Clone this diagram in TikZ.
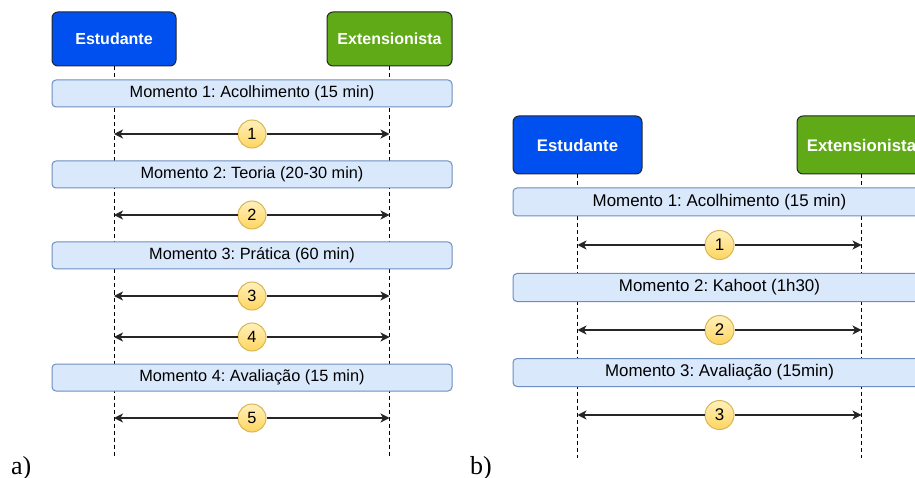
\documentclass[tikz,border=0pt]{standalone}
\usepackage{fontspec}
\setmainfont{Liberation Sans}
\newfontfamily\serifcap{Liberation Serif}
\usetikzlibrary{arrows.meta}
\frenchspacing
\definecolor{estblue}{HTML}{0050EF}
\definecolor{extgreen}{HTML}{60A917}
\definecolor{barfill}{HTML}{DAE8FC}
\definecolor{barline}{HTML}{6C8EBF}
\definecolor{circtop}{HTML}{FFF0BB}
\definecolor{circbot}{HTML}{FFD560}
\definecolor{circline}{HTML}{D6B656}
\tikzset{
  actorbox/.style={rectangle, rounded corners=6pt, line width=1pt, text=white,
     font=\fontsize{16}{19}\selectfont\bfseries, inner sep=0pt},
  estbox/.style={actorbox, fill=estblue, draw=black!85},
  extbox/.style={actorbox, fill=extgreen, draw=black!85},
  momentbar/.style={rectangle, rounded corners=4pt, fill=barfill, draw=barline, line width=1pt,
     inner sep=0pt, font=\fontsize{16.3}{19}\selectfont},
  lifeline/.style={dashed, dash pattern=on 4pt off 3pt, line width=1pt, black},
  stepcirc/.style={circle, top color=circtop, bottom color=circbot, draw=circline, line width=1pt,
     minimum size=28pt, inner sep=0pt, font=\fontsize{16.3}{19}\selectfont},
  msgarrow/.style={line width=1.3pt, black!85, -{Stealth[length=9pt, width=9pt, inset=2.5pt]}},
  panellabel/.style={font=\serifcap\fontsize{26}{30}\selectfont, anchor=base west, inner sep=0pt}
}
\begin{document}
\begin{tikzpicture}[x=1pt, y=-1pt]
\useasboundingbox (0,0) rectangle (915,478);
\clip (0,0) rectangle (915,478);

% ---------------- Panel a ----------------
\node[estbox, minimum width=124pt, minimum height=54pt] (aE) at (114,39) {Estudante};
\node[extbox, minimum width=125pt, minimum height=54pt] (aX) at (389.5,39) {Extensionista};
\coordinate (aEend) at (114,458);
\coordinate (aXend) at (389.5,458);
\draw[lifeline] (aE.south) -- (aEend);
\draw[lifeline] (aX.south) -- (aXend);

\node[momentbar, minimum width=400pt, minimum height=27pt] (am1) at (252,93.5) {Momento 1: Acolhimento (15 min)};
\node[momentbar, minimum width=400pt, minimum height=27pt] (am2) at (252,174.5) {Momento 2: Teoria (20-30 min)};
\node[momentbar, minimum width=400pt, minimum height=27pt] (am3) at (252,255.5) {Momento 3: Prática (60 min)};
\node[momentbar, minimum width=400pt, minimum height=27pt] (am4) at (252,377.5) {Momento 4: Avaliação (15 min)};

\foreach \n/\yy in {1/134,2/215,3/296,4/337,5/418}{
  \node[stepcirc] (ac\n) at (252,\yy) {\n};
  \coordinate (acL\n) at (114,\yy);
  \coordinate (acR\n) at (389.5,\yy);
  \draw[msgarrow] (ac\n.west) -- (acL\n);
  \draw[msgarrow] (ac\n.east) -- (acR\n);
}

\node[panellabel] (la) at (11,474) {a)};

% ---------------- Panel b ----------------
\node[estbox, minimum width=129pt, minimum height=58pt, font=\fontsize{16.8}{20}\selectfont\bfseries] (bE) at (577.5,145) {Estudante};
\node[extbox, minimum width=129pt, minimum height=58pt, font=\fontsize{16.8}{20}\selectfont\bfseries] (bX) at (861.5,145) {Extensionista};
\coordinate (bEend) at (577.5,458);
\coordinate (bXend) at (861.5,458);
\draw[lifeline] (bE.south) -- (bEend);
\draw[lifeline] (bX.south) -- (bXend);

\node[momentbar, minimum width=413pt, minimum height=28pt, font=\fontsize{16.9}{20}\selectfont] (bm1) at (719.5,202) {Momento 1: Acolhimento (15 min)};
\node[momentbar, minimum width=413pt, minimum height=28pt, font=\fontsize{16.9}{20}\selectfont] (bm2) at (719.5,287.5) {Momento 2: Kahoot (1h30)};
\node[momentbar, minimum width=413pt, minimum height=28pt, font=\fontsize{16.9}{20}\selectfont] (bm3) at (719.5,372.5) {Momento 3: Avaliação (15min)};

\foreach \n/\yy in {1/245,2/330,3/415}{
  \node[stepcirc, minimum size=29pt, font=\fontsize{16.9}{20}\selectfont] (bc\n) at (719.5,\yy) {\n};
  \coordinate (bcL\n) at (577.5,\yy);
  \coordinate (bcR\n) at (861.5,\yy);
  \draw[msgarrow] (bc\n.west) -- (bcL\n);
  \draw[msgarrow] (bc\n.east) -- (bcR\n);
}

\node[panellabel] (lb) at (470,474) {b)};
\end{tikzpicture}
\end{document}
